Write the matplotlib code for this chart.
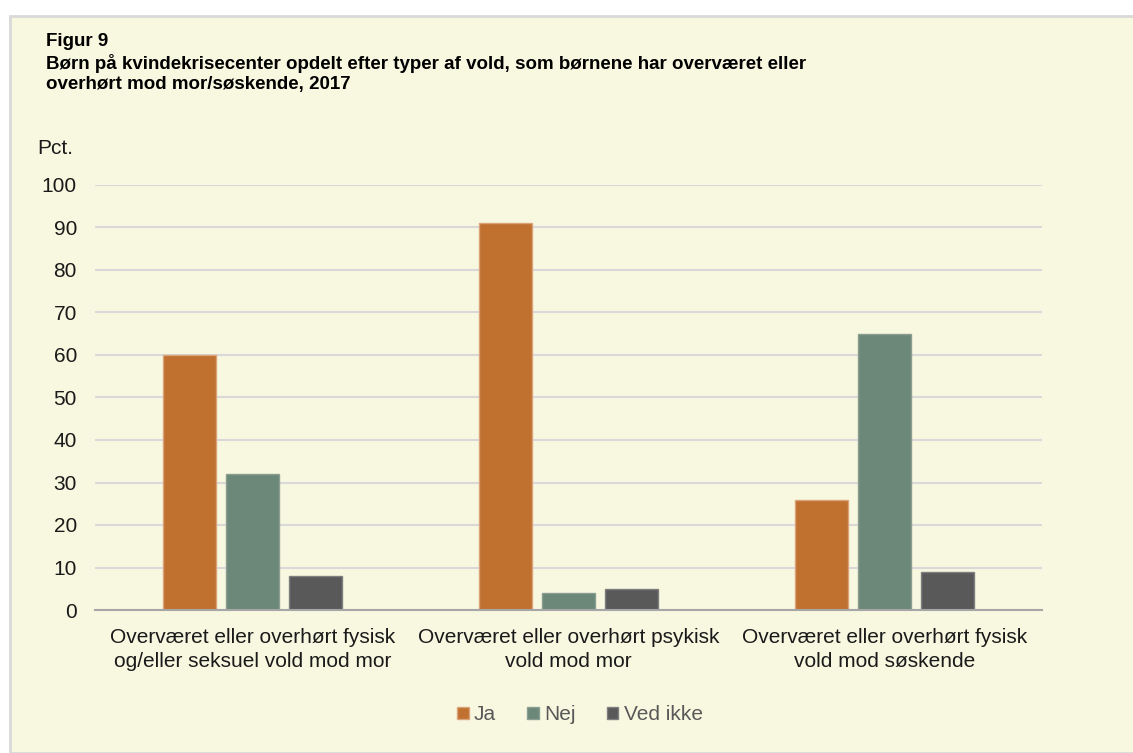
import matplotlib
matplotlib.use("Agg")
import matplotlib.pyplot as plt
from matplotlib.patches import Rectangle
import numpy as np

plt.rcParams['font.family'] = ['Liberation Sans', 'DejaVu Sans']

categories = [
    "Overværet eller overhørt fysisk\nog/eller seksuel vold mod mor",
    "Overværet eller overhørt psykisk\nvold mod mor",
    "Overværet eller overhørt fysisk\nvold mod søskende",
]
series_names = ["Ja", "Nej", "Ved ikke"]
ja = [60, 91, 26]
nej = [32, 4, 65]
ved_ikke = [8, 5, 9]
yticks = [0, 10, 20, 30, 40, 50, 60, 70, 80, 90, 100]

colors = ["#C0702F", "#6B8878", "#595959"]
edges = ["#D9A47A", "#8A9E92", "#7F7F7F"]
cream = "#F8F8E1"

W, H = 1133, 753
fig = plt.figure(figsize=(W / 100, H / 100), dpi=100)
fig.patch.set_facecolor("white")
fig.patches.append(Rectangle((10.5 / W, 0), 1 - 10.5 / W + 0.01, (H - 16) / H,
                             transform=fig.transFigure, facecolor=cream,
                             edgecolor="#D9D9D9", linewidth=2, zorder=-10))

ax = fig.add_axes([95 / W, 1 - 610 / H, (1042 - 95) / W, 425 / H])
ax.set_facecolor("none")

x = np.arange(len(categories))
step = 0.2
width = 0.168
for i, (vals, name) in enumerate(zip([ja, nej, ved_ikke], series_names)):
    ax.bar(x + (i - 1) * step, vals, width, color=colors[i], edgecolor=edges[i],
           linewidth=1, label=name, zorder=3)

ax.set_xlim(-0.5, 2.5)
ax.set_ylim(0, 100)
ax.set_yticks(yticks)
ax.set_yticklabels([str(t) for t in yticks])
ax.yaxis.grid(True, color="#D9D9D9", linewidth=1.5, zorder=0)
ax.set_axisbelow(True)
for s in ["top", "right", "left"]:
    ax.spines[s].set_visible(False)
ax.spines["bottom"].set_color("#A6A6A6")
ax.spines["bottom"].set_linewidth(1.5)
ax.spines["bottom"].set_zorder(4)
ax.tick_params(axis="y", length=0, pad=13, labelsize=15, labelcolor="#1a1a1a")
ax.tick_params(axis="x", length=0, pad=13, labelsize=15, labelcolor="#1a1a1a")
ax.set_xticks(x)
ax.set_xticklabels(categories, linespacing=1.35)

fig.text(46 / W, 1 - 33 / H, "Figur 9", fontsize=13.5, fontweight="bold",
         va="top", ha="left", color="#000000")
fig.text(46 / W, 1 - 54 / H,
         "Børn på kvindekrisecenter opdelt efter typer af vold, som børnene har overværet eller\n"
         "overhørt mod mor/søskende, 2017",
         fontsize=13.5, fontweight="bold", va="top", ha="left", color="#000000",
         linespacing=1.2)
fig.text(37 / W, 1 - 148 / H, "Pct.", fontsize=15, va="center", ha="left",
         color="#1a1a1a")

fig.legend(loc="center", bbox_to_anchor=(580 / W, 1 - 715 / H), ncol=3,
           frameon=False, fontsize=15, handlelength=0.55, handleheight=0.55,
           handletextpad=0.25, columnspacing=1.5, labelcolor="#595959")

fig.savefig("out.png", dpi=100, facecolor=fig.get_facecolor())
